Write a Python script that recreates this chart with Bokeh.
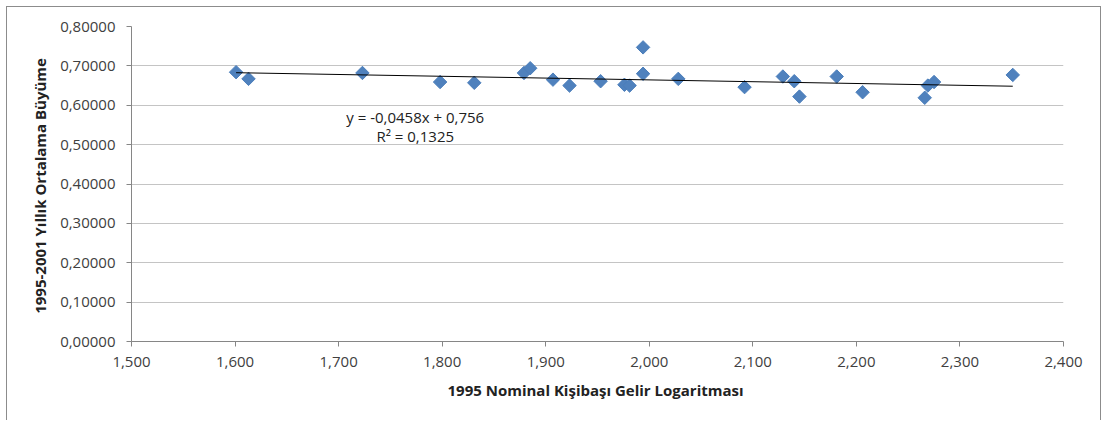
import numpy as np
from bokeh.plotting import figure
from bokeh.models import Range1d, FixedTicker, CustomJSTickFormatter, Label, ColumnDataSource
from bokeh.embed import file_html
from bokeh.resources import INLINE

# ---- data ----
log_income_1995 = [1.601, 1.613, 1.723, 1.798, 1.831, 1.879, 1.885, 1.907, 1.923, 1.953,
                   1.976, 1.981, 1.994, 1.994, 2.028, 2.092, 2.129, 2.140, 2.145, 2.181,
                   2.206, 2.266, 2.269, 2.275, 2.351]
avg_growth = [0.684, 0.667, 0.682, 0.659, 0.657, 0.682, 0.694, 0.665, 0.650, 0.661,
              0.652, 0.650, 0.747, 0.680, 0.667, 0.646, 0.673, 0.661, 0.622, 0.673,
              0.633, 0.619, 0.650, 0.659, 0.677]
x_ticks = [1.5, 1.6, 1.7, 1.8, 1.9, 2.0, 2.1, 2.2, 2.3, 2.4]
y_ticks = [0.0, 0.1, 0.2, 0.3, 0.4, 0.5, 0.6, 0.7, 0.8]
trend_slope = -0.0458
trend_intercept = 0.756
trend_r2 = 0.1325
x_title = "1995 Nominal Kişibaşı  Gelir Logaritması"
y_title = "1995-2001 Yıllık  Ortalama Büyüme"

FONT = "Open Sans"
TXT = "#404040"
AX = "#868686"

p = figure(width=1095, height=414, output_backend="svg", toolbar_location=None,
           x_range=Range1d(x_ticks[0], x_ticks[-1]), y_range=Range1d(y_ticks[0], y_ticks[-1]),
           min_border_left=124, min_border_right=39, min_border_top=19, min_border_bottom=80)
p.styles = {"margin-left": "6px", "margin-top": "6px",
            "border-left": "1px solid #8c8c8c", "border-top": "1px solid #8c8c8c",
            "border-right": "1px solid #8c8c8c"}
p.outline_line_color = None
p.background_fill_color = "white"
p.border_fill_color = "white"

p.xaxis.ticker = FixedTicker(ticks=x_ticks)
p.yaxis.ticker = FixedTicker(ticks=y_ticks)
p.xaxis.formatter = CustomJSTickFormatter(code="return tick.toFixed(3).replace('.', ',');")
p.yaxis.formatter = CustomJSTickFormatter(code="return tick.toFixed(5).replace('.', ',');")

for ax in (p.xaxis, p.yaxis):
    ax.axis_line_color = AX
    ax.major_tick_line_color = AX
    ax.major_tick_out = 5
    ax.major_tick_in = 0
    ax.minor_tick_line_color = None
    ax.major_label_text_font = FONT
    ax.major_label_text_font_size = "15px"
    ax.major_label_text_color = TXT
    ax.axis_label_text_font = FONT
    ax.axis_label_text_font_size = "15px"
    ax.axis_label_text_font_style = "bold"
    ax.axis_label_text_color = "#222222"

p.xaxis.major_label_standoff = 10
p.yaxis.major_label_standoff = 11
p.xaxis.axis_label = x_title
p.yaxis.axis_label = y_title
p.xaxis.axis_label_standoff = 10
p.yaxis.axis_label_standoff = 7

p.xgrid.grid_line_color = None
p.ygrid.grid_line_color = "#c4c4c4"
p.ygrid.grid_line_width = 1

src = ColumnDataSource(dict(x=log_income_1995, y=avg_growth))
p.scatter("x", "y", source=src, marker="square", angle=np.pi / 4, size=9.5,
          fill_color="#4f81bd", line_color="#4a7ebb", line_width=1)

tx = [min(log_income_1995), max(log_income_1995)]
ty = [trend_slope * v + trend_intercept for v in tx]
p.line(tx, ty, line_color="black", line_width=1)

eq1 = "y = " + f"{trend_slope:.4f}".replace(".", ",") + "x + " + f"{trend_intercept:.3f}".replace(".", ",")
eq2 = "R² = " + f"{trend_r2:.4f}".replace(".", ",")
for txt, yy in ((eq1, 0.570), (eq2, 0.521)):
    p.add_layout(Label(x=1.774, y=yy, text=txt, text_align="center", text_baseline="middle",
                       text_font=FONT, text_font_size="15px", text_color="#222222"))

open("out.html", "w").write(file_html(p, INLINE))
